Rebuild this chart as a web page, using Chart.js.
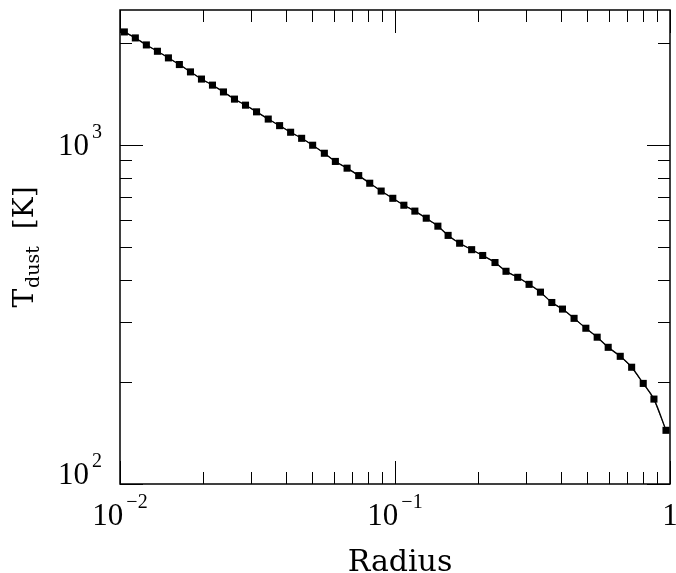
<!DOCTYPE html>
<html>
<head>
<meta charset="utf-8">
<script src="https://cdn.jsdelivr.net/npm/chart.js@4/dist/chart.umd.min.js"></script>
<style>
  html, body { margin: 0; padding: 0; background: #fff; }
  #c { display: block; }
</style>
</head>
<body>
<canvas id="c" width="676" height="573"></canvas>
<script>
// ---- data ----
const radius = [0.01037, 0.01137, 0.01247, 0.01368, 0.0150, 0.01644, 0.01804, 0.01978, 0.02169, 0.02378,
                0.02608, 0.0286, 0.03137, 0.0346, 0.03805, 0.04173, 0.04576, 0.05018, 0.05535, 0.0607,
                0.06695, 0.0738, 0.08093, 0.08906, 0.09817, 0.1077, 0.1181, 0.1299, 0.1432, 0.156,
                0.1718, 0.19, 0.2084, 0.231, 0.2533, 0.2794, 0.3073, 0.338, 0.3717, 0.4065,
                0.4479, 0.4943, 0.5435, 0.596, 0.6593, 0.7253, 0.7992, 0.8742, 0.967];
const tDust = [2154, 2068, 1972, 1889, 1806, 1726, 1642, 1564, 1501, 1433,
               1365, 1310, 1252, 1192, 1140, 1090, 1046, 998, 945, 894,
               854, 812, 771, 731, 696, 664, 638, 608, 576, 541,
               513, 491, 472, 450, 424, 407, 388, 368, 343, 328,
               308, 288, 271, 253, 238, 221, 198, 178, 144];

const xMajorTicks = [0.01, 0.1, 1];
const xMajorLabels = [['10', '\u22122'], ['10', '\u22121'], ['1', '']];
const xMinorTicks = [0.02, 0.03, 0.04, 0.05, 0.06, 0.07, 0.08, 0.09,
                     0.2, 0.3, 0.4, 0.5, 0.6, 0.7, 0.8, 0.9];
const yMajorTicks = [100, 1000];
const yMajorLabels = [['10', '2'], ['10', '3']];
const yMinorTicks = [200, 300, 400, 500, 600, 700, 800, 900, 2000];

const xTitle = 'Radius';
const yTitleMain = 'T';
const yTitleSub = 'dust';
const yTitleUnit = '[K]';

const points = radius.map((r, i) => ({ x: r, y: tDust[i] }));

const framePlugin = {
  id: 'frame',
  afterDraw(chart) {
    const { ctx, chartArea: a, scales } = chart;
    const xs = scales.x, ys = scales.y;
    const MAJ = 23, MIN = 12;
    ctx.save();
    ctx.strokeStyle = '#000';
    ctx.fillStyle = '#000';

    // frame
    ctx.lineWidth = 1.5;
    ctx.strokeRect(a.left, a.top, a.right - a.left, a.bottom - a.top);

    // ticks (inward, on all four sides)
    ctx.lineWidth = 1;
    ctx.beginPath();
    const vx = (v, len) => {
      const p = Math.round(xs.getPixelForValue(v)) + 0.5;
      ctx.moveTo(p, a.bottom); ctx.lineTo(p, a.bottom - len);
      ctx.moveTo(p, a.top); ctx.lineTo(p, a.top + len);
    };
    const vy = (v, len) => {
      const p = Math.round(ys.getPixelForValue(v)) + 0.5;
      ctx.moveTo(a.left, p); ctx.lineTo(a.left + len, p);
      ctx.moveTo(a.right, p); ctx.lineTo(a.right - len, p);
    };
    xMajorTicks.forEach(v => vx(v, MAJ));
    xMinorTicks.forEach(v => vx(v, MIN));
    yMajorTicks.forEach(v => vy(v, MAJ));
    yMinorTicks.forEach(v => vy(v, MIN));
    ctx.stroke();

    // tick labels
    const mainFont = '31px "Liberation Serif", serif';
    const supFont = '20px "Liberation Serif", serif';
    const gap = 3;
    ctx.textBaseline = 'alphabetic';
    ctx.textAlign = 'left';
    xMajorTicks.forEach((v, i) => {
      const [m, s] = xMajorLabels[i];
      const px = xs.getPixelForValue(v);
      ctx.font = mainFont; const w1 = ctx.measureText(m).width;
      ctx.font = supFont; const w2 = s ? ctx.measureText(s).width : 0;
      const total = w1 + (s ? gap + w2 : 0);
      let start = px - total / 2;
      const base = a.bottom + 41;
      ctx.font = mainFont; ctx.fillText(m, start, base);
      if (s) { ctx.font = supFont; ctx.fillText(s, start + w1 + gap, base - 17); }
    });
    yMajorTicks.forEach((v, i) => {
      const [m, s] = yMajorLabels[i];
      const py = ys.getPixelForValue(v);
      const right = a.left - 18;
      ctx.font = supFont; const w2 = ctx.measureText(s).width;
      ctx.font = mainFont; const w1 = ctx.measureText(m).width;
      const base = Math.min(py + 10, a.bottom);
      ctx.font = mainFont; ctx.fillText(m, right - w2 - gap - w1, base);
      ctx.font = supFont; ctx.fillText(s, right - w2, base - 17);
    });

    // x title
    ctx.font = '30px "DejaVu Serif", serif';
    ctx.textAlign = 'center';
    ctx.fillText(xTitle, (a.left + a.right) / 2 + 5, a.bottom + 87);

    // y title (rotated)
    const tMain = '28px "DejaVu Serif", serif';
    const tSub = '19px "DejaVu Serif", serif';
    ctx.font = tMain; const wT = ctx.measureText(yTitleMain).width;
    const wU = ctx.measureText(yTitleUnit).width;
    ctx.font = tSub; const wS = ctx.measureText(yTitleSub).width;
    const g1 = 1, g2 = 17;
    const tot = wT + g1 + wS + g2 + wU;
    ctx.save();
    ctx.translate(33, (a.top + a.bottom) / 2);
    ctx.rotate(-Math.PI / 2);
    ctx.textAlign = 'left';
    let x0 = -tot / 2;
    ctx.font = tMain; ctx.fillText(yTitleMain, x0, 0);
    x0 += wT + g1;
    ctx.font = tSub; ctx.fillText(yTitleSub, x0, 6);
    x0 += wS + g2;
    ctx.font = tMain; ctx.fillText(yTitleUnit, x0, 0);
    ctx.restore();

    ctx.restore();
  }
};

new Chart(document.getElementById('c'), {
  type: 'scatter',
  data: {
    datasets: [
      {
        label: 'model',
        data: points,
        showLine: true,
        borderColor: '#000',
        borderWidth: 1.3,
        cubicInterpolationMode: 'monotone',
        pointRadius: 0,
        fill: false
      },
      {
        label: 'T_dust',
        data: points,
        showLine: true,
        borderColor: '#222',
        borderWidth: 0.8,
        tension: 0,
        pointStyle: 'rect',
        pointRadius: 5,
        pointHoverRadius: 5,
        pointBackgroundColor: '#000',
        pointBorderWidth: 0,
        fill: false
      }
    ]
  },
  options: {
    responsive: false,
    animation: false,
    layout: { padding: { left: 120, right: 6, top: 10, bottom: 89 } },
    plugins: { legend: { display: false }, tooltip: { enabled: false } },
    scales: {
      x: { type: 'logarithmic', min: 0.01, max: 1, display: false },
      y: { type: 'logarithmic', min: 100, max: 2500, display: false }
    }
  },
  plugins: [framePlugin]
});
</script>
</body>
</html>
